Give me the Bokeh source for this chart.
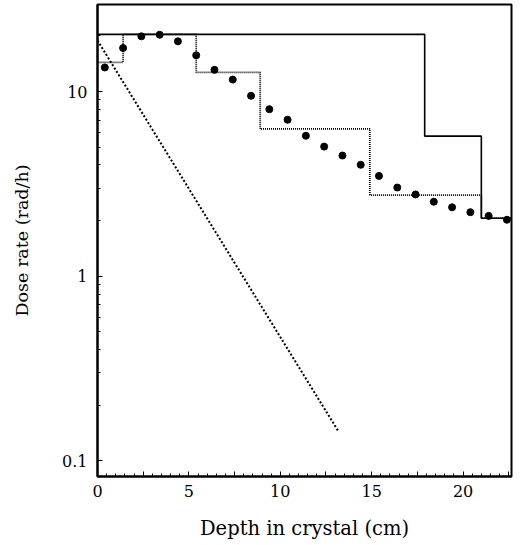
from bokeh.plotting import figure
from bokeh.models import FixedTicker, Range1d
from bokeh.embed import file_html
from bokeh.resources import INLINE

# measured dose rate (points)
depth = [0.4, 1.4, 2.4, 3.4, 4.4, 5.4, 6.4, 7.4, 8.4, 9.4, 10.4, 11.4,
         12.4, 13.4, 14.4, 15.4, 16.4, 17.4, 18.4, 19.4, 20.4, 21.4, 22.4]
dose_measured = [13.5, 17.2, 19.9, 20.3, 18.7, 15.7, 13.1, 11.6, 9.48, 8.02, 7.03, 5.76,
                 5.03, 4.5, 4.01, 3.49, 3.02, 2.77, 2.53, 2.36, 2.22, 2.12, 2.02]

# solid step curve
solid_edges = [0.0, 17.9, 21.0, 22.65]
solid_dose = [20.4, 5.73, 2.06, 2.06]

# dotted step curve
dotted_edges = [0.0, 1.4, 5.4, 8.9, 14.9, 21.0, 22.65]
dotted_dose = [14.4, 20.4, 12.7, 6.27, 2.75, 2.06, 2.06]

# dashed exponential line
line_depth = [0.0, 13.15]
line_dose = [18.9, 0.146]

# axes
x_major = [0, 2.5, 5, 7.5, 10, 12.5, 15, 17.5, 20, 22.5]
x_minor = [0.5, 1, 1.5, 2, 3, 3.5, 4, 4.5, 5.5, 6, 6.5, 7, 8, 8.5, 9, 9.5,
           10.5, 11, 11.5, 12, 13, 13.5, 14, 14.5, 15.5, 16, 16.5, 17, 18, 18.5,
           19, 19.5, 20.5, 21, 21.5, 22]
x_labels = ["0", "", "5", "", "10", "", "15", "", "20", ""]
y_major = [0.1, 1, 10]
y_minor = [0.2, 0.3, 0.4, 0.5, 0.6, 0.7, 0.8, 0.9, 2, 3, 4, 5, 6, 7, 8, 9, 20]
y_labels = ["0.1", "1", "10"]

FONT = "DejaVu Serif"

p = figure(width=523, height=543, x_range=Range1d(0, 22.65), y_range=Range1d(0.0822, 29.6),
           y_axis_type="log", output_backend="svg", toolbar_location=None,
           min_border_left=97, min_border_right=12, min_border_top=4, min_border_bottom=67)

p.xgrid.visible = False
p.ygrid.visible = False
p.outline_line_color = "black"
p.outline_line_width = 2
p.background_fill_color = "white"
p.border_fill_color = "white"

p.xaxis.ticker = FixedTicker(ticks=x_major, minor_ticks=x_minor)
p.xaxis.major_label_overrides = {t: l for t, l in zip(x_major, x_labels)}
p.yaxis.ticker = FixedTicker(ticks=y_major, minor_ticks=y_minor)
p.yaxis.major_label_overrides = {t: l for t, l in zip(y_major, y_labels)}

for ax in (p.xaxis[0], p.yaxis[0]):
    ax.axis_line_color = "black"
    ax.axis_line_width = 2
    ax.major_tick_in = 5
    ax.major_tick_out = 0
    ax.minor_tick_in = 3
    ax.minor_tick_out = 0
    ax.major_tick_line_color = "black"
    ax.minor_tick_line_color = "black"
    ax.major_label_text_font = FONT
    ax.major_label_text_font_size = "16px"
    ax.major_label_text_color = "black"
    ax.axis_label_text_font = FONT
    ax.axis_label_text_font_style = "normal"
    ax.axis_label_text_color = "black"

p.xaxis.axis_label_text_font_size = "19.5px"
p.yaxis.axis_label_text_font_size = "17.5px"
p.xaxis.axis_label = "Depth in crystal (cm)"
p.yaxis.axis_label = "Dose rate (rad/h)"
p.xaxis.major_label_standoff = 8
p.xaxis.axis_label_standoff = 17
p.yaxis.major_label_standoff = 10
p.yaxis.axis_label_standoff = 27

p.step(solid_edges, solid_dose, mode="after", line_color="black", line_width=1.6)
p.step(dotted_edges, dotted_dose, mode="after", line_color="black", line_width=1.8,
       line_dash="1 1")
p.line(line_depth, line_dose, line_color="black", line_width=2, line_dash="2 2")
p.scatter(depth, dose_measured, size=7, color="black")

open("out.html", "w").write(file_html(p, INLINE))
